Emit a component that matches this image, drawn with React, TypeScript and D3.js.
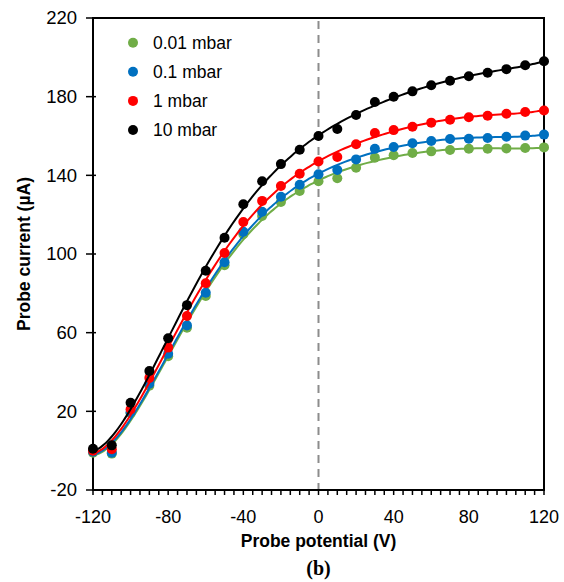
import React from "react";
import * as d3 from "d3";

const potentials = [-120, -110, -100, -90, -80, -70, -60, -50, -40, -30, -20, -10, 0, 10, 20, 30, 40, 50, 60, 70, 80, 90, 100, 110, 120];

const seriesNames = ["0.01 mbar", "0.1 mbar", "1 mbar", "10 mbar"];
const seriesColors = ["#70AD47", "#0070C0", "#FF0000", "#000000"];

const current001 = [-1, -1.5, 19, 33, 48, 62.5, 78.6, 94.3, 110, 119.3, 126.4, 132, 137, 138.5, 143.9, 149, 150.2, 151.4, 152.2, 152.9, 153.5, 153.5, 153.7, 153.9, 154.2];
const current01 = [-0.5, -1, 19.5, 34, 49.3, 63.7, 80.3, 95.8, 111.3, 121.5, 129.1, 135.2, 140.5, 142.7, 148.1, 153.5, 154.4, 156.3, 157.5, 158.5, 158.6, 159, 159.6, 160.2, 160.7];
const current1 = [0, 0.7, 21, 37, 52.4, 68.5, 85.1, 100.5, 116.3, 127, 134.6, 140.8, 147, 149.3, 155.8, 161.5, 163, 164.7, 166.8, 168.3, 169.5, 170.3, 171.3, 172.2, 173];
const current10 = [1, 2.7, 24.4, 40.5, 57.2, 74, 91.5, 108.3, 125.3, 137, 145.7, 153, 160, 163.6, 170.7, 177.3, 180, 182.7, 185.8, 188.1, 190.4, 192.2, 194, 196, 198];

const seriesValues = [current001, current01, current1, current10];

const xTicks = [-120, -80, -40, 0, 40, 80, 120];
const yTicks = [-20, 20, 60, 100, 140, 180, 220];

// least-squares polynomial fit (trend curve), t normalised to [-1, 1]
function polyFit(xs: number[], ys: number[], deg: number) {
  const n = deg + 1;
  const A: number[][] = Array.from({ length: n }, () => new Array(n + 1).fill(0));
  xs.forEach((xv, k) => {
    const t = xv / 120;
    const pw = d3.range(2 * n).map((p) => Math.pow(t, p));
    for (let i = 0; i < n; i++) {
      for (let j = 0; j < n; j++) A[i][j] += pw[i + j];
      A[i][n] += pw[i] * ys[k];
    }
  });
  for (let c = 0; c < n; c++) {
    let piv = c;
    for (let r = c + 1; r < n; r++) if (Math.abs(A[r][c]) > Math.abs(A[piv][c])) piv = r;
    [A[c], A[piv]] = [A[piv], A[c]];
    for (let r = 0; r < n; r++) {
      if (r === c) continue;
      const f = A[r][c] / A[c][c];
      for (let k = c; k <= n; k++) A[r][k] -= f * A[c][k];
    }
  }
  const coef = A.map((row, i) => row[n] / row[i]);
  return (xv: number) => {
    const t = xv / 120;
    return coef.reduce((s, c, i) => s + c * Math.pow(t, i), 0);
  };
}

export default function App() {
  const left = 93, right = 544, top = 18, bottom = 490;
  const x = d3.scaleLinear().domain([-120, 120]).range([left, right]);
  const y = d3.scaleLinear().domain([-20, 220]).range([bottom, top]);
  const font = "'Liberation Sans', Arial, sans-serif";
  const line = d3
    .line<[number, number]>()
    .x((d) => x(d[0]))
    .y((d) => y(d[1]))
    .curve(d3.curveMonotoneX);
  const minor = d3.range(-120, 121, 5);
  const samples = d3.range(-120, 120.01, 2);

  return (
    <svg width={564} height={582} style={{ position: "absolute", left: 0, top: 0 }}>
      <rect width={564} height={582} fill="#fff" />
      <line x1={x(0)} x2={x(0)} y1={top + 3} y2={bottom} stroke="#8c8c8c" strokeWidth={2} strokeDasharray="8,6" />
      <rect x={left} y={top} width={right - left} height={bottom - top} fill="none" stroke="#000" strokeWidth={2} />
      {minor.map((t) => (
        <line key={"mx" + t} x1={x(t)} x2={x(t)} y1={bottom} y2={bottom + 5} stroke="#000" strokeWidth={1.5} />
      ))}
      {yTicks.map((t) => (
        <line key={"ty" + t} x1={left - 7} x2={left + 3} y1={y(t)} y2={y(t)} stroke="#000" strokeWidth={1.5} />
      ))}
      {yTicks.map((t) => (
        <text key={"ly" + t} x={77} y={y(t)} dy="0.35em" textAnchor="end" fontFamily={font} fontSize={18.5} fill="#000">
          {t}
        </text>
      ))}
      {xTicks.map((t) => (
        <text key={"lx" + t} x={x(t)} y={523} textAnchor="middle" fontFamily={font} fontSize={18} fill="#000">
          {t}
        </text>
      ))}
      <text x={x(0)} y={547} textAnchor="middle" fontFamily={font} fontSize={17.5} fontWeight="bold" fill="#000">
        Probe potential (V)
      </text>
      <text
        transform={`translate(30,${(top + bottom) / 2}) rotate(-90)`}
        textAnchor="middle"
        fontFamily={font}
        fontSize={17.5}
        fontWeight="bold"
        fill="#000"
      >
        Probe current (µA)
      </text>
      <text x={x(0)} y={575} textAnchor="middle" fontFamily="'Liberation Serif', 'Times New Roman', serif" fontSize={20} fontWeight="bold" fill="#000">
        (b)
      </text>
      {seriesValues.map((vals, i) => {
        const pts: [number, number][] = potentials.map((p, j) => [p, vals[j]]);
        const fit = polyFit(potentials, vals, 6);
        const curve: [number, number][] = samples.map((s) => [s, fit(s)]);
        return (
          <g key={"s" + i}>
            <path d={line(curve) || ""} fill="none" stroke={seriesColors[i]} strokeWidth={2} />
            {pts.map((d, j) => (
              <circle key={j} cx={x(d[0])} cy={y(d[1])} r={5} fill={seriesColors[i]} />
            ))}
          </g>
        );
      })}
      {seriesNames.map((n, i) => (
        <g key={"lg" + i} transform={`translate(133,${42.7 + i * 29.1})`}>
          <circle r={5} fill={seriesColors[i]} />
          <text x={20} dy="0.35em" fontFamily={font} fontSize={17.5} fill="#000">
            {n}
          </text>
        </g>
      ))}
    </svg>
  );
}
